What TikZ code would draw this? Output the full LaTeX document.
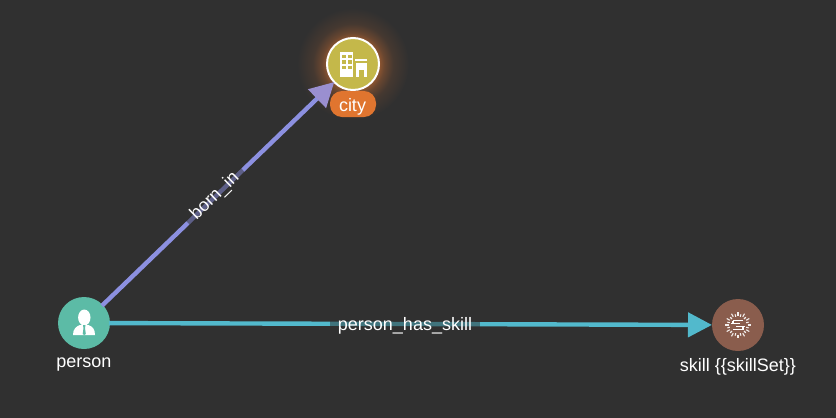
\documentclass[tikz,border=0pt]{standalone}
\usepackage{fontspec}
\setmainfont{Liberation Sans}
\usetikzlibrary{arrows.meta}
\definecolor{bg}{HTML}{303030}
\definecolor{teal1}{HTML}{5CBBA6}
\definecolor{olive1}{HTML}{C4B84A}
\definecolor{brown1}{HTML}{8A5D4D}
\definecolor{orange1}{HTML}{E0752F}
\definecolor{line1}{HTML}{8C90E0}
\definecolor{head1}{HTML}{9A8FD0}
\definecolor{line2}{HTML}{52B9CC}
\pgfdeclareradialshading{cityglow}{\pgfpoint{0bp}{0bp}}{color(0bp)=(orange1!55!bg);color(11.5bp)=(orange1!55!bg);color(14bp)=(orange1!32!bg);color(18bp)=(orange1!12!bg);color(25bp)=(bg);color(50bp)=(bg)}
\tikzset{
  vertex/.style={circle,minimum size=52pt,inner sep=0pt,outer sep=0pt},
  txt/.style={text=white,font=\fontsize{18}{20}\selectfont,inner sep=0pt},
  edgelabel/.style={txt,fill=bg,fill opacity=0.5,text opacity=1,inner xsep=8pt,inner ysep=1pt},
  link/.style={line width=4.4pt,shorten <=-1pt},
  icon/.style={fill=white,draw=none},
}
\begin{document}
\begin{tikzpicture}[x=1pt,y=-1pt]
\useasboundingbox (0,0) rectangle (836,418);
\fill[bg] (0,0) rectangle (836,418);
\shade[shading=cityglow] (353,64) circle (56);
\node[vertex,fill=teal1] (person) at (84,323) {};
\node[vertex,fill=olive1,draw=white,line width=2pt,minimum size=52pt] (city) at (353,64) {};
\node[vertex,fill=brown1] (skill) at (738,325) {};
\node[txt,anchor=center] (personlabel) at (84,365) {person};
\node[txt,anchor=center] (skilllabel) at (738,367) {skill \{\{skillSet\}\}};
\node[vertex,rectangle,fill=orange1,rounded corners=12pt,minimum width=46pt,minimum height=26pt] (citybadge) at (353,104) {};
\node[txt] (citylabel) at (352.5,106.5) {city};
\draw[link,line1,-{Triangle[length=24pt,width=25pt,color=head1]}] (person) -- (city);
\draw[link,line2,-{Triangle[length=24pt,width=24pt]}] (person) -- (skill);
\node[edgelabel,rotate=44] (bornlabel) at (215,196) {born\_in};
\node[edgelabel] (skilledge) at (405,325.5) {person\_has\_skill};
% person icon
\fill[icon] (84.3,317.5) ellipse (6.2pt and 8pt);
\fill[icon] (73,335) .. controls (73,329) and (76,326.5) .. (80,325) -- (88.5,325) .. controls (92.5,326.5) and (95,329) .. (95,335) -- cycle;
\fill[teal1] (83,325) -- (85.5,325) -- (85,328) -- (85.8,334) -- (84.2,335) -- (82.7,334) -- (83.5,328) -- cycle;
% city icon
\fill[icon] (340,52) rectangle (353,77);
\foreach \wx in {342,348} \foreach \wy in {54.5,60,65.5}
  \fill[olive1] (\wx,\wy) rectangle +(3.6,3.8);
\fill[icon] (355,59) rectangle (367,61);
\fill[icon] (355.5,63) rectangle (367,77);
\fill[olive1] (359,70) rectangle (363.5,77);
% skill icon
\foreach \a in {0,30,...,330}{
  \draw[white!90!brown1,line width=1.1pt] (738,325) ++(\a:9.5) -- ++(\a:3.5);
  \draw[white!90!brown1,line width=1.1pt] (738,325) ++(\a+15:8.5) -- ++(\a+15:2.5);
}
\draw[white,line width=1.1pt] (733,320.5) -- (743,320.5) (731,323.5) -- (740,323.5) (736,326.5) -- (745,326.5) (733,329.5) -- (743,329.5);
\draw[white,line width=1.1pt] (733,320.5) -- (733,323.5) (743,326.5) -- (743,329.5);
\end{tikzpicture}
\end{document}
